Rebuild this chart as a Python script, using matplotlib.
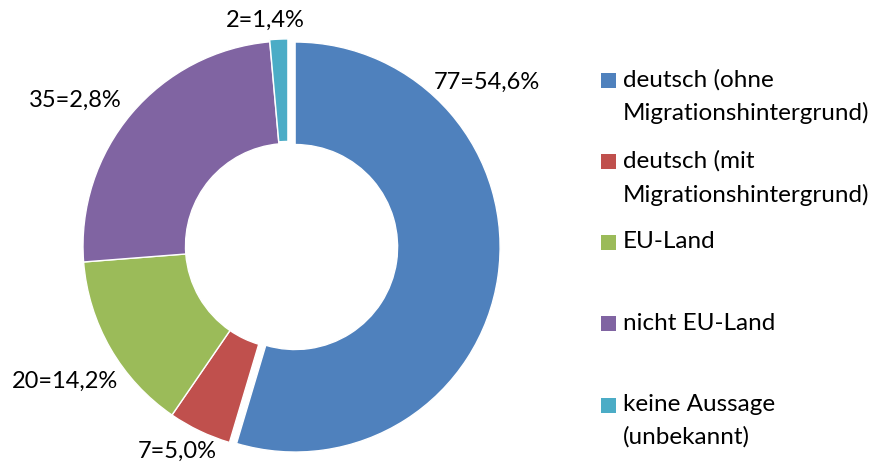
import matplotlib
matplotlib.use("Agg")
from matplotlib import pyplot as plt
from matplotlib.patches import Rectangle

plt.rcParams['font.family'] = ['Lato', 'DejaVu Sans']

# data
labels = ['deutsch (ohne\nMigrationshintergrund)',
          'deutsch (mit\nMigrationshintergrund)',
          'EU-Land',
          'nicht EU-Land',
          'keine Aussage\n(unbekannt)']
counts = [77, 7, 20, 35, 2]
pct_text = ['77=54,6%', '7=5,0%', '20=14,2%', '35=2,8%', '2=1,4%']
colors = ['#4F81BD', '#C0504D', '#9BBB59', '#8064A2', '#4BACC6']
explode = [0.035, 0, 0, 0, 0.01]

# label positions in units of the outer radius (relative to pie centre)
label_xy = [(0.97, 0.80), (-0.54, -1.00), (-1.09, -0.66),
            (-1.04, 0.71), (-0.11, 1.10)]

W, H = 877, 465
fig = plt.figure(figsize=(W / 100, H / 100), dpi=100)

# pie centre and radius in pixels
cx, cy, R = 288, 246, 205
half = 240
ax = fig.add_axes([(cx - half) / W, (H - cy - half) / H, 2 * half / W, 2 * half / H])

ax.pie(counts, colors=colors, startangle=90, counterclock=False,
       explode=explode, radius=1.0,
       wedgeprops=dict(width=0.5, edgecolor='white', linewidth=1))
ax.set_xlim(-half / R, half / R)
ax.set_ylim(-half / R, half / R)
ax.set_aspect('equal')
ax.axis('off')

for (x, y), t in zip(label_xy, pct_text):
    ax.text(x, y, t, ha='center', va='center', fontsize=17, color='black')

# legend
def fx(px):
    return px / W

def fy(py):
    return 1 - py / H

for i, (lab, col) in enumerate(zip(labels, colors)):
    yc = 80 + 81.25 * i
    fig.patches.append(Rectangle((fx(601), fy(yc + 7.5)), 15 / W, 15 / H,
                                 transform=fig.transFigure, facecolor=col,
                                 edgecolor='none'))
    fig.text(fx(623), fy(yc - 11), lab, ha='left', va='top', fontsize=17.5,
             linespacing=1.65, color='black')

fig.savefig('out.png', dpi=100, facecolor='white')
